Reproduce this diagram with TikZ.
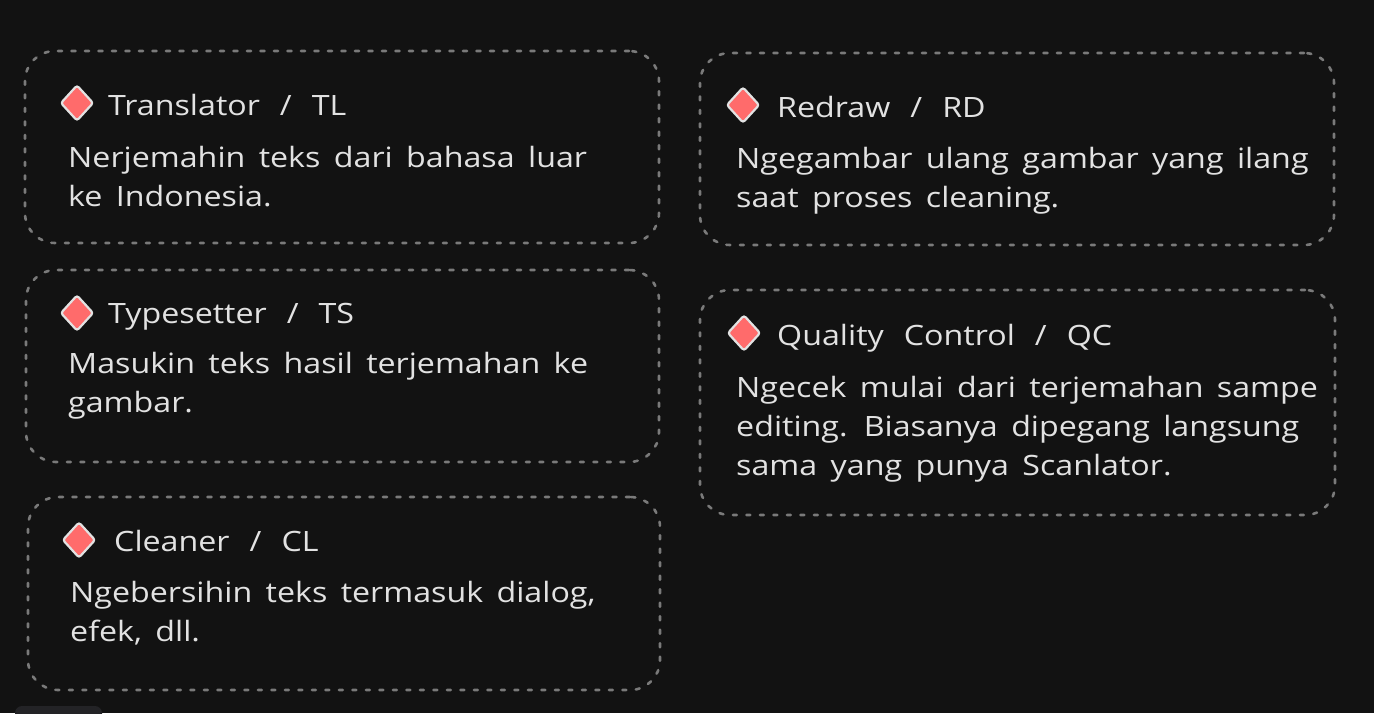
\documentclass[tikz,border=0pt]{standalone}
\usepackage{fontspec}
\setmainfont[FakeStretch=1.15,WordSpace=1.6]{Open Sans}
\newfontfamily\headfont[FakeStretch=1.15,WordSpace=2.4]{Open Sans}
\usetikzlibrary{shapes.geometric}
\definecolor{canvas}{HTML}{121212}
\definecolor{inkgray}{HTML}{E2E2E2}
\definecolor{dashgray}{HTML}{7A7A7A}
\definecolor{markred}{HTML}{FF6B6B}
\definecolor{panelgray}{HTML}{232326}
\newcommand{\txtsize}[0]{\fontsize{28}{39}\selectfont}

\begin{document}
\begin{tikzpicture}[x=1pt,y=-1pt,
    card/.style={draw=dashgray, line width=2.6pt, dash pattern=on 4pt off 9.5pt,
      line cap=round, rounded corners=30pt, inner sep=0pt},
    marker/.style={shape=diamond, fill=markred, draw=inkgray, line width=2.2pt,
      rounded corners=2.5pt, minimum width=33pt, minimum height=36pt, inner sep=0pt},
    title/.style={anchor=base west, inner sep=0pt, text=inkgray, font=\headfont\txtsize},
    body/.style={anchor=base west, inner sep=0pt, text=inkgray, font=\txtsize, align=left}]
        \useasboundingbox (0,0) rectangle (1374,713);
        \fill[canvas] (0,0) rectangle (1374,713);
        %role cards
        \node[card, minimum width=634pt, minimum height=192pt] (tl) at (342,147)    {};
        \node[card, minimum width=634pt, minimum height=192pt] (rd) at (1017,149)   {};
        \node[card, minimum width=633pt, minimum height=192pt] (ts) at (342.5,366)  {};
        \node[card, minimum width=635pt, minimum height=225pt] (qc) at (1017.5,402.5) {};
        \node[card, minimum width=632pt, minimum height=193pt] (cl) at (344,593.5)  {};
        %markers
        \node[marker] (tlm) at (77,103)  {};
        \node[marker] (rdm) at (743,105) {};
        \node[marker] (tsm) at (77,313)  {};
        \node[marker] (qcm) at (744,333) {};
        \node[marker] (clm) at (79,540)  {};
        %titles
        \node[title] (tlt) at (108,115) {Translator / TL};
        \node[title] (rdt) at (777,117) {Redraw / RD};
        \node[title] (tst) at (108,323) {Typesetter / TS};
        \node[title] (qct) at (777,345) {Quality Control / QC};
        \node[title] (clt) at (114,551) {Cleaner / CL};
        %descriptions (placed by their last line)
        \node[body] (tlb) at (68,206)  {Nerjemahin teks dari bahasa luar\\ke Indonesia.};
        \node[body] (rdb) at (736,207) {Ngegambar ulang gambar yang ilang\\saat proses cleaning.};
        \node[body] (tsb) at (68,412)  {Masukin teks hasil terjemahan ke\\gambar.};
        \node[body] (qcb) at (736,475) {Ngecek mulai dari terjemahan sampe\\editing. Biasanya dipegang langsung\\sama yang punya Scanlator.};
        \node[body] (clb) at (70,641)  {Ngebersihin teks termasuk dialog,\\efek, dll.};
        %bottom panel edge
        \begin{scope}
          \clip (0,0) rectangle (1374,713);
          \fill[panelgray, rounded corners=7pt] (15,706) rectangle (102,730);
        \end{scope}
\end{tikzpicture}
\end{document}
